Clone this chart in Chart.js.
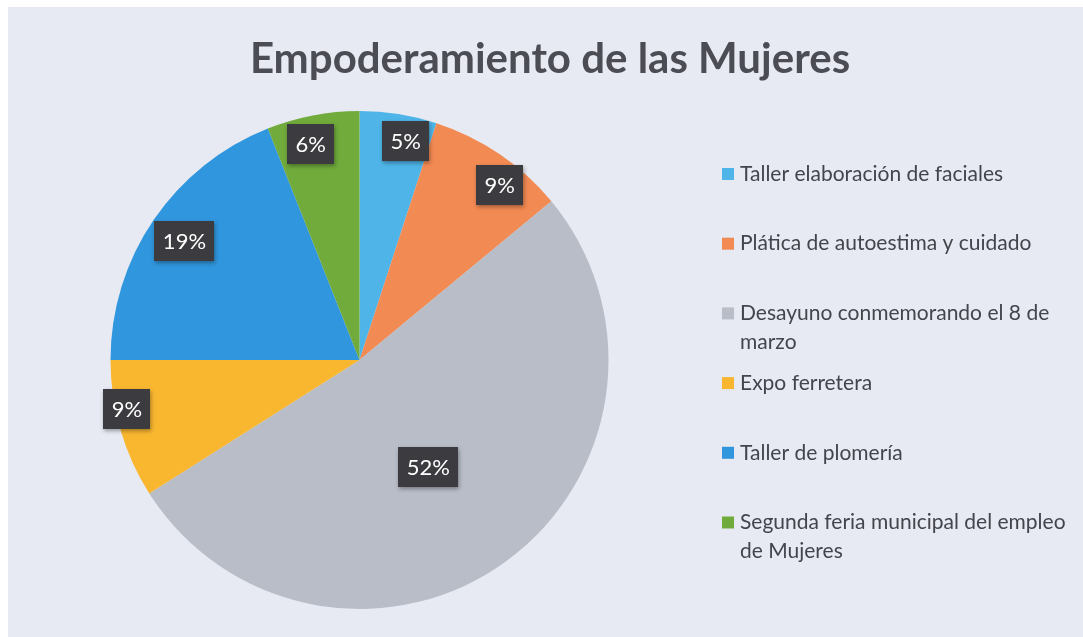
<!DOCTYPE html>
<html><head><meta charset="utf-8">
<script src="https://cdn.jsdelivr.net/npm/chart.js@4.4.1/dist/chart.umd.min.js"></script>
<style>html,body{margin:0;padding:0;background:#fff;overflow:hidden;} #wrap{width:1083px;height:637px;position:relative;}</style>
</head><body><div id="wrap"><canvas id="c" width="1083" height="637"></canvas></div>
<script>
const chartTitle = 'Empoderamiento de las Mujeres';
const categories = [
  'Taller elaboración de faciales',
  'Plática de autoestima y cuidado',
  'Desayuno conmemorando el 8 de marzo',
  'Expo ferretera',
  'Taller de plomería',
  'Segunda feria municipal del empleo de Mujeres'
];
const values = [5, 9, 52, 9, 19, 6];
const percentLabels = ['5%', '9%', '52%', '9%', '19%', '6%'];
const sliceColors = ['#4fb5e8', '#f28a53', '#b8bdc7', '#f9b730', '#3096dd', '#70ab3c'];
// placement of each value label inside its slice
const labelAngleFrac = [0.66, 0.64, 0.517, 0.63, 0.5, 0.41];
const labelRadiusFrac = [0.90, 0.90, 0.51, 0.955, 0.85, 0.89];

const FONT = 'Lato, "Open Sans", sans-serif';

const bgPlugin = {
  id: 'bg',
  beforeDraw(chart) {
    const ctx = chart.ctx;
    ctx.save();
    ctx.fillStyle = '#ffffff';
    ctx.fillRect(0, 0, chart.width, chart.height);
    ctx.fillStyle = '#e7eaf2';
    ctx.fillRect(8, 7, chart.width - 8, chart.height - 7);
    ctx.restore();
  }
};

const titlePlugin = {
  id: 'customTitle',
  afterDraw(chart) {
    const ctx = chart.ctx;
    ctx.save();
    ctx.font = 'bold 42px ' + FONT;
    ctx.fillStyle = '#4b4c54';
    ctx.textAlign = 'center';
    ctx.textBaseline = 'alphabetic';
    ctx.fillText(chartTitle, 550, 73);
    ctx.restore();
  }
};

function wrapText(ctx, text, maxWidth) {
  const words = text.split(' ');
  const lines = [];
  let cur = '';
  for (const w of words) {
    const test = cur ? cur + ' ' + w : w;
    if (ctx.measureText(test).width > maxWidth && cur) {
      lines.push(cur);
      cur = w;
    } else {
      cur = test;
    }
  }
  if (cur) lines.push(cur);
  return lines;
}

const legendPlugin = {
  id: 'customLegend',
  afterDraw(chart) {
    const ctx = chart.ctx;
    const ds = chart.data.datasets[0];
    ctx.save();
    ctx.font = '21px ' + FONT;
    ctx.textBaseline = 'middle';
    ctx.textAlign = 'left';
    chart.data.labels.forEach((lab, i) => {
      const y0 = 174 + i * 69.7;
      ctx.fillStyle = ds.backgroundColor[i];
      ctx.fillRect(722, y0 - 6, 12, 12);
      ctx.fillStyle = '#43444c';
      const lines = wrapText(ctx, lab, 333);
      lines.forEach((ln, k) => ctx.fillText(ln, 740, y0 + k * 28.5));
    });
    ctx.restore();
  }
};

const valueLabelPlugin = {
  id: 'valueLabels',
  afterDatasetsDraw(chart) {
    const ctx = chart.ctx;
    const meta = chart.getDatasetMeta(0);
    ctx.save();
    ctx.font = '22px ' + FONT;
    ctx.textAlign = 'center';
    ctx.textBaseline = 'middle';
    meta.data.forEach((arc, i) => {
      const p = arc.getProps(['x', 'y', 'startAngle', 'endAngle', 'outerRadius'], true);
      const a = p.startAngle + labelAngleFrac[i] * (p.endAngle - p.startAngle);
      const r = labelRadiusFrac[i] * p.outerRadius;
      const cx = p.x + r * Math.cos(a);
      const cy = p.y + r * Math.sin(a);
      const txt = percentLabels[i];
      const w = ctx.measureText(txt).width + 17;
      const h = 40;
      ctx.save();
      ctx.shadowColor = 'rgba(0,0,0,0.35)';
      ctx.shadowBlur = 4;
      ctx.shadowOffsetX = 1;
      ctx.shadowOffsetY = 2;
      ctx.fillStyle = '#3c3c40';
      ctx.fillRect(Math.round(cx - w / 2), Math.round(cy - h / 2), Math.round(w), h);
      ctx.restore();
      ctx.fillStyle = '#ffffff';
      ctx.fillText(txt, cx, cy + 1);
    });
    ctx.restore();
  }
};

new Chart(document.getElementById('c'), {
  type: 'pie',
  data: {
    labels: categories,
    datasets: [{
      data: values,
      backgroundColor: sliceColors,
      borderWidth: 0
    }]
  },
  options: {
    responsive: false,
    animation: false,
    devicePixelRatio: 1,
    layout: { padding: { left: 110, right: 474, top: 111, bottom: 28 } },
    plugins: {
      legend: { display: false },
      title: { display: false },
      tooltip: { enabled: false }
    }
  },
  plugins: [bgPlugin, titlePlugin, legendPlugin, valueLabelPlugin]
});
</script>
</body></html>
